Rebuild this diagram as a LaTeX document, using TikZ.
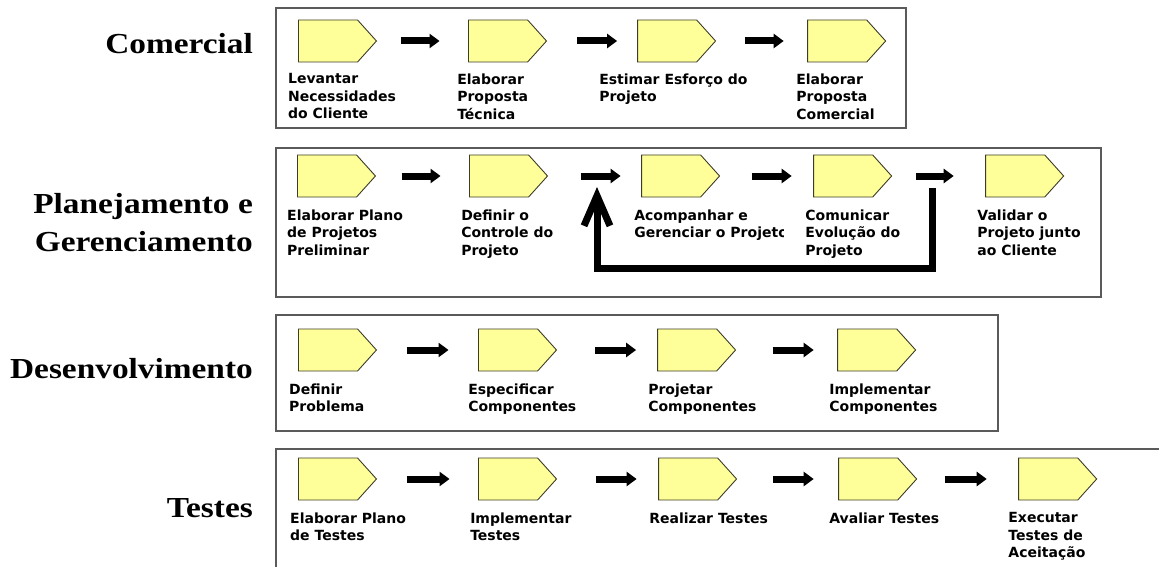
\documentclass[tikz,border=0pt]{standalone}
\usepackage{fontspec}
\usetikzlibrary{shapes.symbols, arrows.meta, positioning, calc}
\newfontfamily\lanefont[FakeStretch=1.15]{Liberation Serif}
\newfontfamily\stepfont{DejaVu Sans}
\definecolor{StepYellow}{HTML}{FFFF99}
\definecolor{StepEdge}{HTML}{3C3C28}
\definecolor{LaneGray}{HTML}{5A5A5A}
\tikzset{
    lane/.style={draw=LaneGray, line width=1.5pt},
    lanelabel/.style={font=\lanefont\bfseries\fontsize{29}{38}\selectfont, align=right, inner sep=0pt},
    activity/.style={signal, signal to=east, signal pointer angle=96, draw=StepEdge, line width=0.9pt, fill=StepYellow, minimum width=78pt, minimum height=42pt, inner sep=0pt},
    steptext/.style={font=\stepfont\bfseries\fontsize{14}{17.5}\selectfont, align=left, inner sep=0pt},
    flow/.style={-{Triangle[length=10pt, width=14pt]}, line width=7pt},
    feedback/.style={-{Straight Barb[length=30pt, width=26pt]}, line width=7pt}
}

\begin{document}
\begin{tikzpicture}[x=1pt, y=-1pt]
    \useasboundingbox (0,0) rectangle (1159,567);

    % lanes
    \draw[lane] (276,8) rectangle (906,128);
    \draw[lane] (276,148) rectangle (1101,297);
    \draw[lane] (276,315) rectangle (998,431);
    \draw[lane] (1159,449) -- (276,449) -- (276,567);

    \node[lanelabel, anchor=base east] (comercial) at (253,54) {Comercial};
    \node[lanelabel, anchor=east] (planejamento) at (253,223) {Planejamento e\\Gerenciamento};
    \node[lanelabel, anchor=base east] (desenvolvimento) at (253,378) {Desenvolvimento};
    \node[lanelabel, anchor=base east] (testes) at (253,517) {Testes};

    % Comercial
    \node[activity, anchor=west] (c1) at (298,41) {};
    \node[activity, right=91pt of c1] (c2) {};
    \node[activity, right=90pt of c2] (c3) {};
    \node[activity, right=91pt of c3] (c4) {};
    \node[steptext, below right=11pt and -10pt of c1.south west] (tc1) {Levantar\\Necessidades\\do Cliente};
    \node[steptext, below right=11pt and -11pt of c2.south west] (tc2) {Elaborar\\Proposta\\Técnica};
    \node[steptext, below right=11pt and -38pt of c3.south west] (tc3) {Estimar Esforço do\\Projeto};
    \node[steptext, below right=11pt and -11pt of c4.south west] (tc4) {Elaborar\\Proposta\\Comercial};
    \draw[flow] ($(c1.east)!.5!(c2.west) + (-22,0)$) -- ++(39,0);
    \draw[flow] ($(c2.east)!.5!(c3.west) + (-15,0)$) -- ++(40,0);
    \draw[flow] ($(c3.east)!.5!(c4.west) + (-17,0)$) -- ++(39,0);

    % Planejamento e Gerenciamento
    \node[activity, anchor=west] (p1) at (297,176) {};
    \node[activity, right=93pt of p1] (p2) {};
    \node[activity, right=93pt of p2] (p3) {};
    \node[activity, right=93pt of p3] (p4) {};
    \node[activity, right=93pt of p4] (p5) {};
    \node[steptext, below right=12pt and -10pt of p1.south west] (tp1) {Elaborar Plano\\de Projetos\\Preliminar};
    \node[steptext, below right=12pt and -8pt of p2.south west] (tp2) {Definir o\\Controle do\\Projeto};
    \begin{scope}
        \clip (600,190) rectangle (783,280);
        \node[steptext, below right=12pt and -7pt of p3.south west] (tp3) {Acompanhar e\\Gerenciar o Projeto};
    \end{scope}
    \node[steptext, below right=12pt and -8pt of p4.south west] (tp4) {Comunicar\\Evolução do\\Projeto};
    \node[steptext, below right=12pt and -8pt of p5.south west] (tp5) {Validar o\\Projeto junto\\ao Cliente};
    \draw[flow] ($(p1.east)!.5!(p2.west) + (-21,0)$) -- ++(39,0);
    \draw[flow] ($(p2.east)!.5!(p3.west) + (-14,0)$) -- ++(40,0);
    \draw[flow] ($(p3.east)!.5!(p4.west) + (-15,0)$) -- ++(40,0);
    \draw[flow] ($(p4.east)!.5!(p5.west) + (-23,0)$) -- ++(38,0);
    \coordinate (loopout) at (932,188);
    \coordinate (loopin) at (597,187);
    \draw[feedback] (loopout) -- (932,268) -| (loopin);

    % Desenvolvimento
    \node[activity, anchor=west] (d1) at (298,350) {};
    \node[activity, right=101pt of d1] (d2) {};
    \node[activity, right=100pt of d2] (d3) {};
    \node[activity, right=101pt of d3] (d4) {};
    \node[steptext, below right=12pt and -9pt of d1.south west] (td1) {Definir\\Problema};
    \node[steptext, below right=12pt and -10pt of d2.south west] (td2) {Especificar\\Componentes};
    \node[steptext, below right=12pt and -9pt of d3.south west] (td3) {Projetar\\Componentes};
    \node[steptext, below right=12pt and -8pt of d4.south west] (td4) {Implementar\\Componentes};
    \draw[flow] ($(d1.east)!.5!(d2.west) + (-21,0)$) -- ++(42,0);
    \draw[flow] ($(d2.east)!.5!(d3.west) + (-12,0)$) -- ++(41,0);
    \draw[flow] ($(d3.east)!.5!(d4.west) + (-14,0)$) -- ++(41,0);

    % Testes
    \node[activity, anchor=west] (t1) at (298,479) {};
    \node[activity, right=101pt of t1] (t2) {};
    \node[activity, right=101pt of t2] (t3) {};
    \node[activity, right=101pt of t3] (t4) {};
    \node[activity, right=101pt of t4] (t5) {};
    \node[steptext, below right=12pt and -8pt of t1.south west] (tt1) {Elaborar Plano\\de Testes};
    \node[steptext, below right=12pt and -8pt of t2.south west] (tt2) {Implementar\\Testes};
    \node[steptext, below right=12pt and -9pt of t3.south west] (tt3) {Realizar Testes};
    \node[steptext, below right=12pt and -9pt of t4.south west] (tt4) {Avaliar Testes};
    \node[steptext, below right=12pt and -10pt of t5.south west] (tt5) {Executar\\Testes de\\Aceitação};
    \draw[flow] ($(t1.east)!.5!(t2.west) + (-21,0)$) -- ++(43,0);
    \draw[flow] ($(t2.east)!.5!(t3.west) + (-12,0)$) -- ++(41,0);
    \draw[flow] ($(t3.east)!.5!(t4.west) + (-15,0)$) -- ++(41,0);
    \draw[flow] ($(t4.east)!.5!(t5.west) + (-23,0)$) -- ++(42,0);
\end{tikzpicture}
\end{document}
